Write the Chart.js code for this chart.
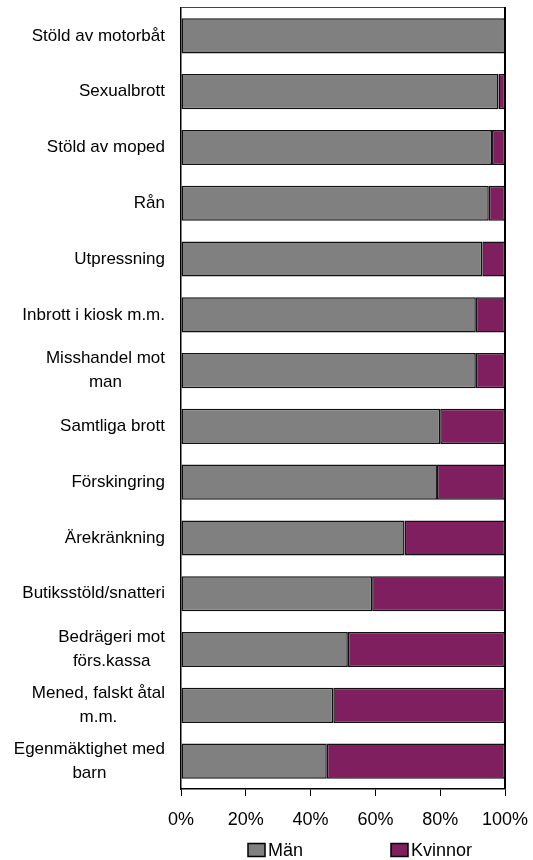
<!DOCTYPE html>
<html>
<head>
<meta charset="utf-8">
<script src="https://cdn.jsdelivr.net/npm/chart.js@4/dist/chart.umd.min.js"></script>
<style>
  html, body { margin: 0; padding: 0; background: #fff; }
  #wrap { width: 533px; height: 860px; position: relative; }
</style>
</head>
<body>
<div id="wrap"><canvas id="c" width="533" height="860"></canvas></div>
<script>
const categories = [
  "Stöld av motorbåt",
  "Sexualbrott",
  "Stöld av moped",
  "Rån",
  "Utpressning",
  "Inbrott i kiosk m.m.",
  ["Misshandel mot", "man"],
  "Samtliga brott",
  "Förskingring",
  "Ärekränkning",
  "Butiksstöld/snatteri",
  ["Bedrägeri mot", "förs.kassa"],
  ["Mened, falskt åtal", "m.m."],
  ["Egenmäktighet med", "barn"]
];
const man = [100, 98, 96, 95, 93, 91, 91, 80, 79, 69, 59, 51.5, 47, 45];
const kvinnor = [0, 2, 4, 5, 7, 9, 9, 20, 21, 31, 41, 48.5, 53, 55];
const xTicks = [0, 20, 40, 60, 80, 100];
const seriesNames = ["Män", "Kvinnor"];

const FONT = '"Liberation Sans", Arial, sans-serif';

const drawExtras = {
  id: 'drawExtras',
  afterDatasetsDraw(chart) {
    const ctx = chart.ctx;
    const a = chart.chartArea;
    ctx.save();
    ctx.strokeStyle = '#444';
    ctx.lineWidth = 1;
    ctx.beginPath();
    ctx.moveTo(a.left, a.top - 0.5);
    ctx.lineTo(a.right, a.top - 0.5);
    ctx.stroke();
    ctx.strokeStyle = '#000';
    ctx.lineWidth = 2;
    ctx.beginPath();
    ctx.moveTo(a.right, a.top - 1);
    ctx.lineTo(a.right, a.bottom);
    ctx.stroke();
    ctx.restore();
  },
  afterDraw(chart) {
    const ctx = chart.ctx;
    const ys = chart.scales.y;
    ctx.save();
    ctx.font = '17px ' + FONT;
    ctx.fillStyle = '#000';
    ctx.textBaseline = 'middle';
    ctx.textAlign = 'center';
    const rightEdge = 165;
    const lineH = 24;
    chart.data.labels.forEach((lab, i) => {
      const lines = Array.isArray(lab) ? lab : [lab];
      const maxW = Math.max(...lines.map(l => ctx.measureText(l).width));
      const cx = rightEdge - maxW / 2;
      const yc = ys.getPixelForValue(i);
      const y0 = yc - (lines.length - 1) * lineH / 2;
      lines.forEach((l, k) => ctx.fillText(l, cx, y0 + k * lineH));
    });
    const items = chart.data.datasets.map(d => ({ label: d.label, color: d.backgroundColor }));
    const boxX = [248, 391];
    const yc = 850;
    ctx.font = '18px ' + FONT;
    ctx.textAlign = 'left';
    items.forEach((it, k) => {
      const x = boxX[k];
      ctx.fillStyle = it.color;
      ctx.fillRect(x, yc - 6.5, 17, 13);
      ctx.strokeStyle = '#000';
      ctx.lineWidth = 1.5;
      ctx.strokeRect(x, yc - 6.5, 17, 13);
      ctx.fillStyle = '#000';
      ctx.fillText(it.label, x + 20, yc + 1);
    });
    ctx.restore();
  }
};

new Chart(document.getElementById('c'), {
  type: 'bar',
  data: {
    labels: categories,
    datasets: [
      { label: seriesNames[0], data: man, backgroundColor: '#808080', borderColor: '#111', borderWidth: 1.5, borderSkipped: false },
      { label: seriesNames[1], data: kvinnor, backgroundColor: '#7F1F5F', borderColor: '#111', borderWidth: 1.5, borderSkipped: false }
    ]
  },
  options: {
    indexAxis: 'y',
    responsive: false,
    animation: false,
    devicePixelRatio: 1,
    layout: { padding: { left: 181, right: 28, top: 8, bottom: 0 } },
    datasets: { bar: { categoryPercentage: 1, barPercentage: 0.63 } },
    plugins: { legend: { display: false }, tooltip: { enabled: false } },
    scales: {
      x: {
        stacked: true,
        min: 0, max: 100,
        afterBuildTicks: s => { s.ticks = xTicks.map(v => ({ value: v })); },
        afterFit: s => { s.height = 71; s.paddingLeft = 0; s.paddingRight = 0; },
        ticks: { callback: v => v + '%', color: '#000', font: { family: FONT, size: 18 }, padding: 13, maxRotation: 0 },
        grid: { drawOnChartArea: false, drawTicks: true, tickLength: 7, color: '#000', lineWidth: 1 },
        border: { display: true, color: '#000', width: 1.5 }
      },
      y: {
        stacked: true,
        afterFit: s => { s.width = 0; s.paddingTop = 0; s.paddingBottom = 0; },
        ticks: { display: false },
        grid: { display: false },
        border: { display: true, color: '#000', width: 1.5 }
      }
    }
  },
  plugins: [drawExtras]
});
</script>
</body>
</html>
